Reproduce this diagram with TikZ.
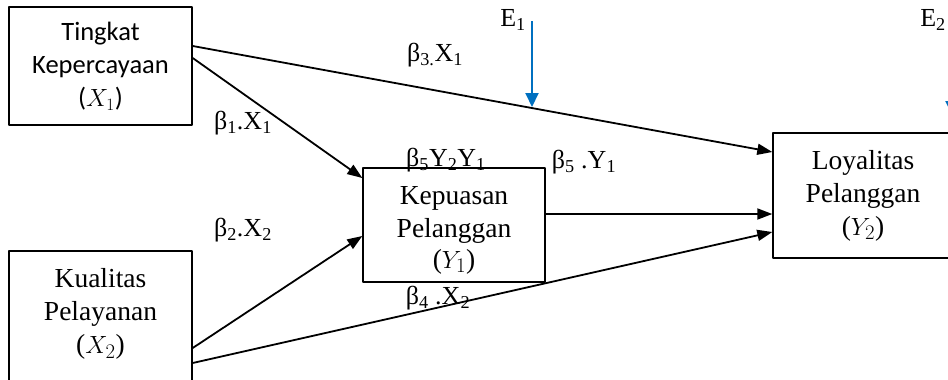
\documentclass[tikz,border=0pt]{standalone}
\usepackage{fontspec}
\setmainfont{Liberation Serif}
\newfontfamily\calibri{Carlito}
\usetikzlibrary{arrows.meta}
\definecolor{birulaut}{RGB}{0,112,192}
\begin{document}
\begin{tikzpicture}[x=1pt,y=-1pt,>={Triangle[length=15pt,width=11pt]}, line join=round,
	kotak/.style={draw,line width=1.4pt,align=center,inner sep=0pt,font=\fontsize{27.5}{33}\selectfont},
	teks/.style={align=center,inner sep=0pt,font=\fontsize{27.5}{33}\selectfont},
	panah/.style={->,line width=1.8pt},
	galat/.style={-{Triangle[length=14pt,width=13pt]},line width=2pt,birulaut},
	koef/.style={inner sep=0pt,font=\fontsize{26}{30}\selectfont}]
		\useasboundingbox (0,0) rectangle (948,380);
		\clip (0,0) rectangle (948,380);
		% Kotak variabel
		\node[kotak,minimum width=183pt,minimum height=118pt,font=\calibri\fontsize{26.5}{33}\selectfont] (x1) at (100.5,66) {Tingkat\\Kepercayaan\\($X_1$)};
		\node[kotak,minimum width=183pt,minimum height=150pt] (x2) at (100.5,326) {};
		\node[teks] (x2teks) at (100.5,314) {Kualitas\\Pelayanan\\($X_2$)};
		\node[kotak,minimum width=182pt,minimum height=114pt] (y1) at (454,225) {};
		\node[teks] (y1teks) at (454,230) {Kepuasan\\Pelanggan\\[-2pt]($Y_1$)};
		\node[kotak,minimum width=180pt,minimum height=125pt] (y2) at (863,195.5) {Loyalitas\\Pelanggan\\($Y_2$)};
		% Panah jalur
		\draw[panah] ([yshift=20pt]x1.east) -- ([yshift=43.5pt]y2.west);
		\draw[panah] ([yshift=8pt]x1.east) -- ([yshift=47pt]y1.west);
		\draw[panah] ([yshift=-22pt]x2.east) -- ([yshift=-11pt]y1.west);
		\draw[panah] ([yshift=-37pt]x2.east) -- ([yshift=-36.5pt]y2.west);
		\draw[panah] ([yshift=11pt]y1.east) -- ([yshift=-18.5pt]y2.west);
		% Koefisien
		\node[koef] (b3) at (435,55) {β\textsubscript{3.}X\textsubscript{1}};
		\node[koef] (b1) at (243,123) {β\textsubscript{1}.X\textsubscript{1}};
		\node[koef] (b2) at (243,230) {β\textsubscript{2}.X\textsubscript{2}};
		\node[koef] (b5a) at (446,160) {β\textsubscript{5}Y\textsubscript{2}Y\textsubscript{1}};
		\node[koef] (b5b) at (584,162) {β\textsubscript{5} .Y\textsubscript{1}};
		\node[koef] (b4) at (438,298) {β\textsubscript{4} .X\textsubscript{2}};
		% Galat
		\node[koef] (e1) at (513,20) {E\textsubscript{1}};
		\node[koef] (e2) at (933,20) {E\textsubscript{2}};
		\coordinate (e1a) at (532,21); \coordinate (e1b) at (532,107);
		\coordinate (e2a) at (952,21); \coordinate (e2b) at (952,115);
		\draw[galat] (e1a) -- (e1b);
		\draw[galat] (e2a) -- (e2b);
		\end{tikzpicture}
\end{document}
